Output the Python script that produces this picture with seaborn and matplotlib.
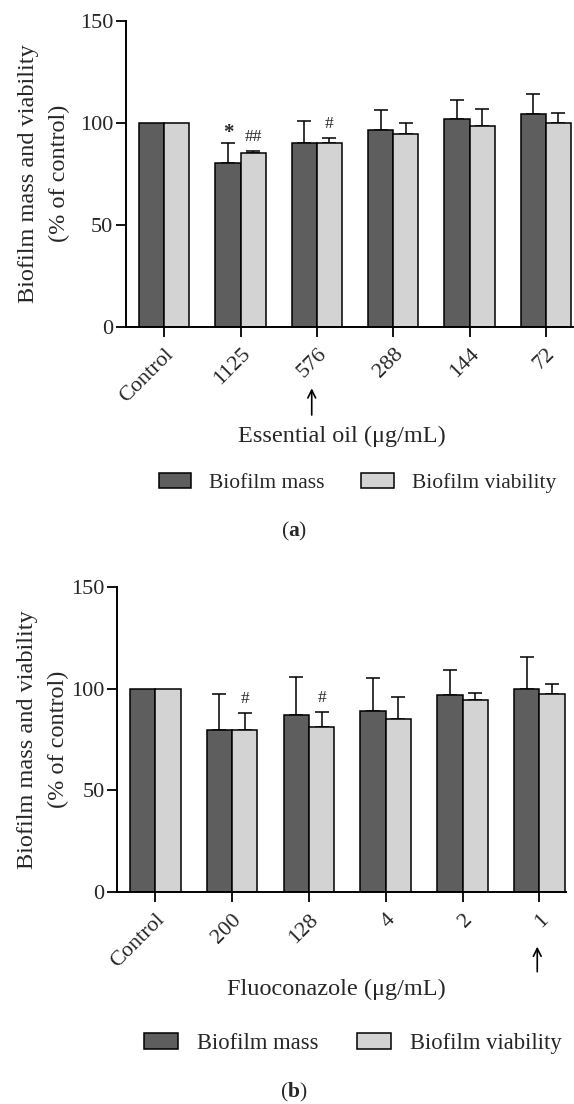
import numpy as np
import pandas as pd
import matplotlib
matplotlib.use("Agg")
import matplotlib.pyplot as plt
from matplotlib.patches import Patch
import seaborn as sns

# ---------------- data ----------------
series_names = ["Biofilm mass", "Biofilm viability"]

categories_a = ["Control", "1125", "576", "288", "144", "72"]
mass_a = [100, 80.0, 90.2, 96.4, 101.6, 104.3]
mass_err_a = [0, 10.2, 10.6, 9.8, 9.7, 9.8]
viab_a = [100, 85.3, 89.9, 94.5, 98.4, 100.0]
viab_err_a = [0, 1.0, 2.7, 5.5, 8.1, 4.9]
marks_a = [("Biofilm mass", "1125", "*"), ("Biofilm viability", "1125", "##"),
           ("Biofilm viability", "576", "#")]
xlabel_a = "Essential oil (μg/mL)"
arrow_a = "576"

categories_b = ["Control", "200", "128", "4", "2", "1"]
mass_b = [100, 79.6, 87.2, 89.1, 97.0, 100.0]
mass_err_b = [0, 17.7, 18.3, 15.9, 12.2, 15.3]
viab_b = [100, 79.6, 81.3, 85.2, 94.2, 97.2]
viab_err_b = [0, 8.5, 7.3, 10.8, 3.4, 5.0]
marks_b = [("Biofilm viability", "200", "#"), ("Biofilm viability", "128", "#")]
xlabel_b = "Fluoconazole (μg/mL)"
arrow_b = "1"

ylabel = "Biofilm mass and viability\n(% of control)"
yticks = [0, 50, 100, 150]

# ---------------- style ----------------
sns.set_style("ticks")
plt.rcParams["font.family"] = ["Liberation Serif", "DejaVu Serif"]
plt.rcParams["mathtext.fontset"] = "custom"
plt.rcParams["mathtext.rm"] = "Liberation Serif"
plt.rcParams["mathtext.bf"] = "Liberation Serif:bold"

DARK = "#5e5e5e"
LIGHT = "#d3d3d3"
LW = 1.1
TICK_FS = 16
LABEL_FS = 17.5

fig = plt.figure(figsize=(5.74, 11.04), dpi=100)
ax_a = fig.add_axes([0.219, 0.7041, 0.7784, 0.2772])
ax_b = fig.add_axes([0.204, 0.1918, 0.7814, 0.2768])


def panel(ax, cats, mass, mass_err, viab, viab_err, marks, xlabel, arrow_cat,
          xlim, xlab_pos, ylab_x, arrow_dx, arrow_y):
    df = pd.DataFrame({
        "cat": cats * 2,
        "series": [series_names[0]] * len(cats) + [series_names[1]] * len(cats),
        "value": list(mass) + list(viab),
    })
    sns.barplot(data=df, x="cat", y="value", hue="series", hue_order=series_names,
                palette=[DARK, LIGHT], saturation=1, width=0.66, edgecolor="black",
                linewidth=LW, errorbar=None, legend=False, ax=ax, zorder=2)
    centers = {}
    for cont, sname, vals, errs in zip(ax.containers, series_names,
                                       [mass, viab], [mass_err, viab_err]):
        xs = np.array([p.get_x() + p.get_width() / 2 for p in cont])
        for c, x in zip(cats, xs):
            centers[(sname, c)] = x
        vals = np.array(vals, float)
        errs = np.array(errs, float)
        m = errs > 0
        ax.errorbar(xs[m], vals[m], yerr=[np.zeros(m.sum()), errs[m]], fmt="none",
                    ecolor="black", elinewidth=LW, capsize=4.8, capthick=LW, zorder=1)
    val_lookup = {}
    for sname, vals, errs in zip(series_names, [mass, viab], [mass_err, viab_err]):
        for c, v, e in zip(cats, vals, errs):
            val_lookup[(sname, c)] = v + e
    for sname, c, txt in marks:
        fs = 15 if txt == "*" else 12.5
        off = 4.5 if txt == "*" else 6.8
        ax.text(centers[(sname, c)], val_lookup[(sname, c)] + off, txt,
                ha="center", va="center", fontsize=fs,
                fontweight="bold" if txt == "*" else "normal")

    ax.set_ylim(0, 150)
    ax.set_yticks(yticks)
    ax.set_xlim(*xlim)
    sns.despine(ax=ax)
    for s in ["left", "bottom"]:
        ax.spines[s].set_linewidth(1.4)
        ax.spines[s].set_color("black")
    ax.tick_params(axis="both", which="major", length=7, width=1.3, color="black",
                   labelsize=TICK_FS, direction="out")
    ax.tick_params(axis="y", pad=2)
    ax.tick_params(axis="x", pad=6)
    for lbl in ax.get_xticklabels():
        lbl.set_rotation(45)
        lbl.set_ha("right")
        lbl.set_va("top")
        lbl.set_rotation_mode("anchor")
    ax.set_xlabel(xlabel, fontsize=LABEL_FS)
    ax.xaxis.set_label_coords(*xlab_pos)
    ax.xaxis.label.set_va("center")
    ax.set_ylabel(ylabel, fontsize=LABEL_FS, linespacing=1.6)
    ax.yaxis.set_label_coords(ylab_x, 0.5)
    ax.yaxis.label.set_va("center")

    ax.grid(False)
    xi = cats.index(arrow_cat) + arrow_dx
    ax.annotate("", xy=(xi, arrow_y[0]), xytext=(xi, arrow_y[1]),
                xycoords=("data", "axes fraction"), textcoords=("data", "axes fraction"),
                arrowprops=dict(arrowstyle="->", lw=1.2, color="black",
                                shrinkA=0, shrinkB=0, mutation_scale=14),
                annotation_clip=False)


panel(ax_a, categories_a, mass_a, mass_err_a, viab_a, viab_err_a, marks_a, xlabel_a,
      arrow_a, (-0.506, 5.35), (0.4846, -0.357), -0.183, -0.068, (-0.2013, -0.2886))
panel(ax_b, categories_b, mass_b, mass_err_b, viab_b, viab_err_b, marks_b, xlabel_b,
      arrow_b, (-0.496, 5.34), (0.490, -0.3174), -0.165, -0.029, (-0.178, -0.26))

handles = [Patch(facecolor=DARK, edgecolor="black", linewidth=LW, label=series_names[0]),
           Patch(facecolor=LIGHT, edgecolor="black", linewidth=LW, label=series_names[1])]
for (cx, cy, fs) in [(357.5 / 574, 1 - 482.7 / 1104, 15.5),
                     (353.0 / 574, 1 - 1043.3 / 1104, 16.3)]:
    fig.legend(handles=handles, loc="center", bbox_to_anchor=(cx, cy), ncol=2,
               frameon=False, fontsize=fs, handlelength=1.5, handleheight=0.72,
               handletextpad=0.85, columnspacing=1.7, borderpad=0, borderaxespad=0)

fig.text(293.7 / 574, 1 - 531.7 / 1104, r"($\mathbf{a}$)", ha="center", va="center",
         fontsize=15.5)
fig.text(293.8 / 574, 1 - 1092 / 1104, r"($\mathbf{b}$)", ha="center", va="center",
         fontsize=15.5)

fig.savefig("out.png", dpi=100)
